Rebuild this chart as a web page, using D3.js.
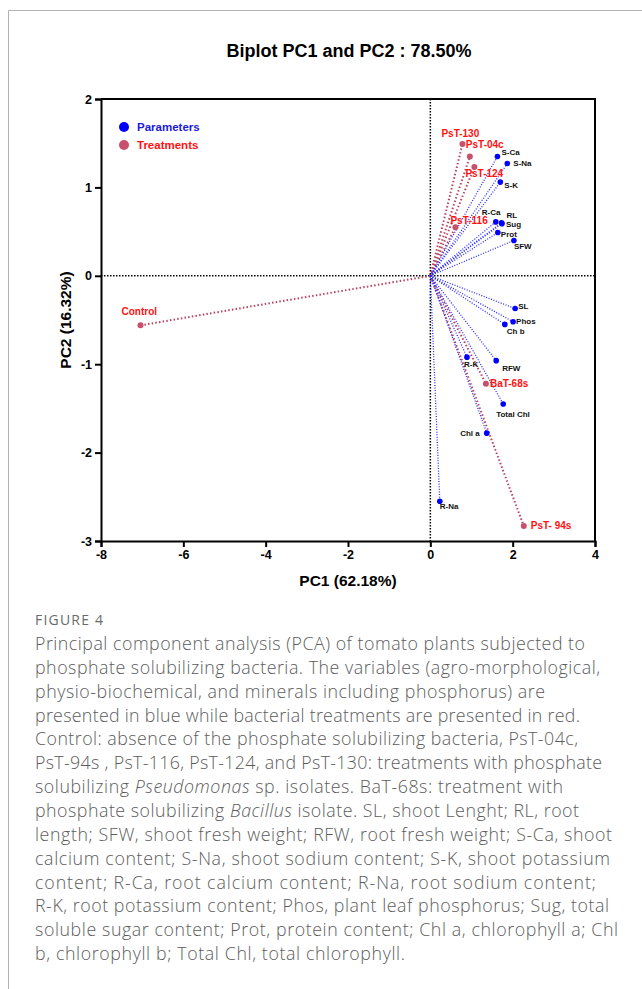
<!DOCTYPE html>
<html>
<head>
<meta charset="utf-8">
<script src="https://cdn.jsdelivr.net/npm/d3@7"></script>
<style>
  body { margin: 0; background: #fff; }
  svg { display: block; }
</style>
</head>
<body>
<svg id="chart" width="642" height="989"></svg>
<script>
// PCA loadings (parameters) and scores (treatments)
const paramNames = ['S-Ca', 'S-Na', 'S-K', 'R-Ca', 'RL', 'Sug', 'Prot', 'SFW', 'SL', 'Phos', 'Ch b', 'RFW', 'R-K', 'Total Chl', 'Chl a', 'R-Na'];
const paramPC1 = [1.63, 1.87, 1.70, 1.59, 1.73, 1.74, 1.64, 2.03, 2.06, 2.01, 1.81, 1.60, 0.89, 1.77, 1.37, 0.23];
const paramPC2 = [1.35, 1.27, 1.06, 0.61, 0.60, 0.59, 0.49, 0.40, -0.37, -0.52, -0.55, -0.96, -0.92, -1.45, -1.78, -2.55];

const treatNames = ['PsT-130', 'PsT-04c', 'PsT-124', 'PsT-116', 'Control', 'BaT-68s', 'PsT- 94s'];
const treatPC1 = [0.78, 0.96, 1.07, 0.61, -7.04, 1.35, 2.27];
const treatPC2 = [1.49, 1.35, 1.23, 0.55, -0.56, -1.22, -2.83];

const xTicks = [-8, -6, -4, -2, 0, 2, 4];
const yTicks = [-3, -2, -1, 0, 1, 2];

const captionLines = [
  'Principal component analysis (PCA) of tomato plants subjected to',
  'phosphate solubilizing bacteria. The variables (agro-morphological,',
  'physio-biochemical, and minerals including phosphorus) are',
  'presented in blue while bacterial treatments are presented in red.',
  'Control: absence of the phosphate solubilizing bacteria, PsT-04c,',
  'PsT-94s , PsT-116, PsT-124, and PsT-130: treatments with phosphate',
  'solubilizing <i>Pseudomonas</i> sp. isolates. BaT-68s: treatment with',
  'phosphate solubilizing <i>Bacillus</i> isolate. SL, shoot Lenght; RL, root',
  'length; SFW, shoot fresh weight; RFW, root fresh weight; S-Ca, shoot',
  'calcium content; S-Na, shoot sodium content; S-K, shoot potassium',
  'content; R-Ca, root calcium content; R-Na, root sodium content;',
  'R-K, root potassium content; Phos, plant leaf phosphorus; Sug, total',
  'soluble sugar content; Prot, protein content; Chl a, chlorophyll a; Chl',
  'b, chlorophyll b; Total Chl, total chlorophyll.'
];
// right edge of each caption line in the picture, px
const captionEnds = [585, 600, 545, 580, 578, 602, 563, 579, 612, 610, 596, 609, 618, 405];

// label nudges in px [dx, dy, anchor]
const paramLabelPos = {
  'S-Ca': [4, -1], 'S-Na': [6, 2], 'S-K': [4, 6], 'R-Ca': [-14, -7], 'RL': [5, -5],
  'Sug': [4, 3], 'Prot': [3, 5], 'SFW': [0, 9], 'SL': [3, 0], 'Phos': [3, 2],
  'Ch b': [2, 10], 'RFW': [6, 10], 'R-K': [-3, 10], 'Total Chl': [-7, 13],
  'Chl a': [-7, 3, 'end'], 'R-Na': [0, 8]
};
const treatLabelPos = {
  'PsT-130': [-21, -7], 'PsT-04c': [-4, -8], 'PsT-124': [-9, 10], 'PsT-116': [-5, -3],
  'Control': [-19, -10], 'BaT-68s': [4, 3], 'PsT- 94s': [7, 3]
};

const BLUE = '#0000ff', RED_DOT = '#c8506c', RED_LINE = '#b84462', RED_TXT = '#ff1111';
const font = 'Liberation Sans, Arial, Helvetica, sans-serif';

const svg = d3.select('#chart');

// page frame
svg.append('path')
  .attr('d', 'M8.5,989 L8.5,10.5 L642,10.5')
  .attr('fill', 'none').attr('stroke', '#b3b3b3').attr('stroke-width', 1);

const x = d3.scaleLinear().domain([-8, 4]).range([101, 595]);
const y = d3.scaleLinear().domain([-3, 2]).range([541, 99]);

svg.append('text')
  .attr('x', 349).attr('y', 57)
  .attr('text-anchor', 'middle')
  .attr('font-family', font).attr('font-weight', 'bold').attr('font-size', 18)
  .text('Biplot PC1 and PC2 : 78.50%');

// zero reference lines
svg.append('line')
  .attr('x1', x(0)).attr('x2', x(0)).attr('y1', y(2)).attr('y2', y(-3))
  .attr('stroke', '#000').attr('stroke-width', 1.5).attr('stroke-dasharray', '1.5,1.5');
svg.append('line')
  .attr('x1', x(-8)).attr('x2', x(4)).attr('y1', y(0)).attr('y2', y(0))
  .attr('stroke', '#000').attr('stroke-width', 1.5).attr('stroke-dasharray', '1.5,1.5');

// axes
const fmt = d => String(d);
const xAxis = svg.append('g')
  .attr('transform', `translate(0,${y(-3)})`)
  .call(d3.axisBottom(x).tickValues(xTicks).tickFormat(fmt).tickSize(6).tickPadding(3));
const yAxis = svg.append('g')
  .attr('transform', `translate(${x(-8)},0)`)
  .call(d3.axisLeft(y).tickValues(yTicks).tickFormat(fmt).tickSize(6).tickPadding(3));
[xAxis, yAxis].forEach(g => {
  g.select('.domain').attr('stroke-width', 2);
  g.selectAll('.tick line').attr('stroke-width', 2);
  g.selectAll('.tick text')
    .attr('font-family', font).attr('font-weight', 'bold').attr('font-size', 12.5).attr('fill', '#000');
});
// top and right frame of the plot
svg.append('path')
  .attr('d', `M${x(-8)},${y(2)} L${x(4)},${y(2)} L${x(4)},${y(-3)}`)
  .attr('fill', 'none').attr('stroke', '#000').attr('stroke-width', 2);

svg.append('text')
  .attr('x', 348).attr('y', 586)
  .attr('text-anchor', 'middle')
  .attr('font-family', font).attr('font-weight', 'bold').attr('font-size', 15.5)
  .text('PC1 (62.18%)');
svg.append('text')
  .attr('transform', 'translate(71,320) rotate(-90)')
  .attr('text-anchor', 'middle')
  .attr('font-family', font).attr('font-weight', 'bold').attr('font-size', 15.5)
  .text('PC2 (16.32%)');

// vectors
const params = paramNames.map((n, i) => ({ name: n, pc1: paramPC1[i], pc2: paramPC2[i] }));
const treats = treatNames.map((n, i) => ({ name: n, pc1: treatPC1[i], pc2: treatPC2[i] }));

svg.append('g').selectAll('line')
  .data(treats).join('line')
  .attr('x1', x(0)).attr('y1', y(0))
  .attr('x2', d => x(d.pc1)).attr('y2', d => y(d.pc2))
  .attr('stroke', RED_LINE).attr('stroke-width', 2).attr('stroke-dasharray', '1.5,2.2');
svg.append('g').selectAll('line')
  .data(params).join('line')
  .attr('x1', x(0)).attr('y1', y(0))
  .attr('x2', d => x(d.pc1)).attr('y2', d => y(d.pc2))
  .attr('stroke', '#2b2bff').attr('stroke-width', 1.3).attr('stroke-dasharray', '1,1.6');

svg.append('g').selectAll('circle')
  .data(treats).join('circle')
  .attr('cx', d => x(d.pc1)).attr('cy', d => y(d.pc2)).attr('r', 3)
  .attr('fill', RED_DOT);
svg.append('g').selectAll('circle')
  .data(params).join('circle')
  .attr('cx', d => x(d.pc1)).attr('cy', d => y(d.pc2)).attr('r', 2.8)
  .attr('fill', BLUE);

svg.append('g').selectAll('text')
  .data(params).join('text')
  .attr('x', d => x(d.pc1) + paramLabelPos[d.name][0])
  .attr('y', d => y(d.pc2) + paramLabelPos[d.name][1])
  .attr('text-anchor', d => paramLabelPos[d.name][2] || 'start')
  .attr('font-family', font).attr('font-weight', 'bold').attr('font-size', 8)
  .attr('fill', '#111')
  .text(d => d.name);
svg.append('g').selectAll('text')
  .data(treats).join('text')
  .attr('x', d => x(d.pc1) + treatLabelPos[d.name][0])
  .attr('y', d => y(d.pc2) + treatLabelPos[d.name][1])
  .attr('font-family', font).attr('font-weight', 'bold').attr('font-size', 10)
  .attr('fill', RED_TXT)
  .text(d => d.name);

// legend
const legend = svg.append('g').attr('transform', 'translate(124,127)');
[['Parameters', BLUE, '#1a1ad9'], ['Treatments', RED_DOT, RED_TXT]].forEach((l, i) => {
  legend.append('circle').attr('cx', 0).attr('cy', i * 18).attr('r', 5).attr('fill', l[1]);
  legend.append('text').attr('x', 13).attr('y', i * 18 + 4)
    .attr('font-family', font).attr('font-weight', 'bold').attr('font-size', 11.5)
    .attr('fill', l[2]).text(l[0]);
});

// caption
svg.append('text')
  .attr('x', 35).attr('y', 625)
  .attr('font-family', 'Open Sans, sans-serif').attr('font-size', 14)
  .attr('fill', '#6a6a6a')
  .attr('textLength', 68).attr('lengthAdjust', 'spacing')
  .text('FIGURE 4');
const cap = svg.append('g')
  .attr('font-family', 'Open Sans, sans-serif').attr('font-weight', 300)
  .attr('font-size', 17.8).attr('fill', '#5c5c5c');
captionLines.forEach((line, i) => {
  cap.append('text')
    .attr('x', 35).attr('y', 650 + i * 23.85)
    .attr('textLength', captionEnds[i] - 35).attr('lengthAdjust', 'spacing')
    .html(line.replace(/<i>/g, '<tspan font-style="italic">').replace(/<\/i>/g, '</tspan>'));
});
</script>
</body>
</html>
